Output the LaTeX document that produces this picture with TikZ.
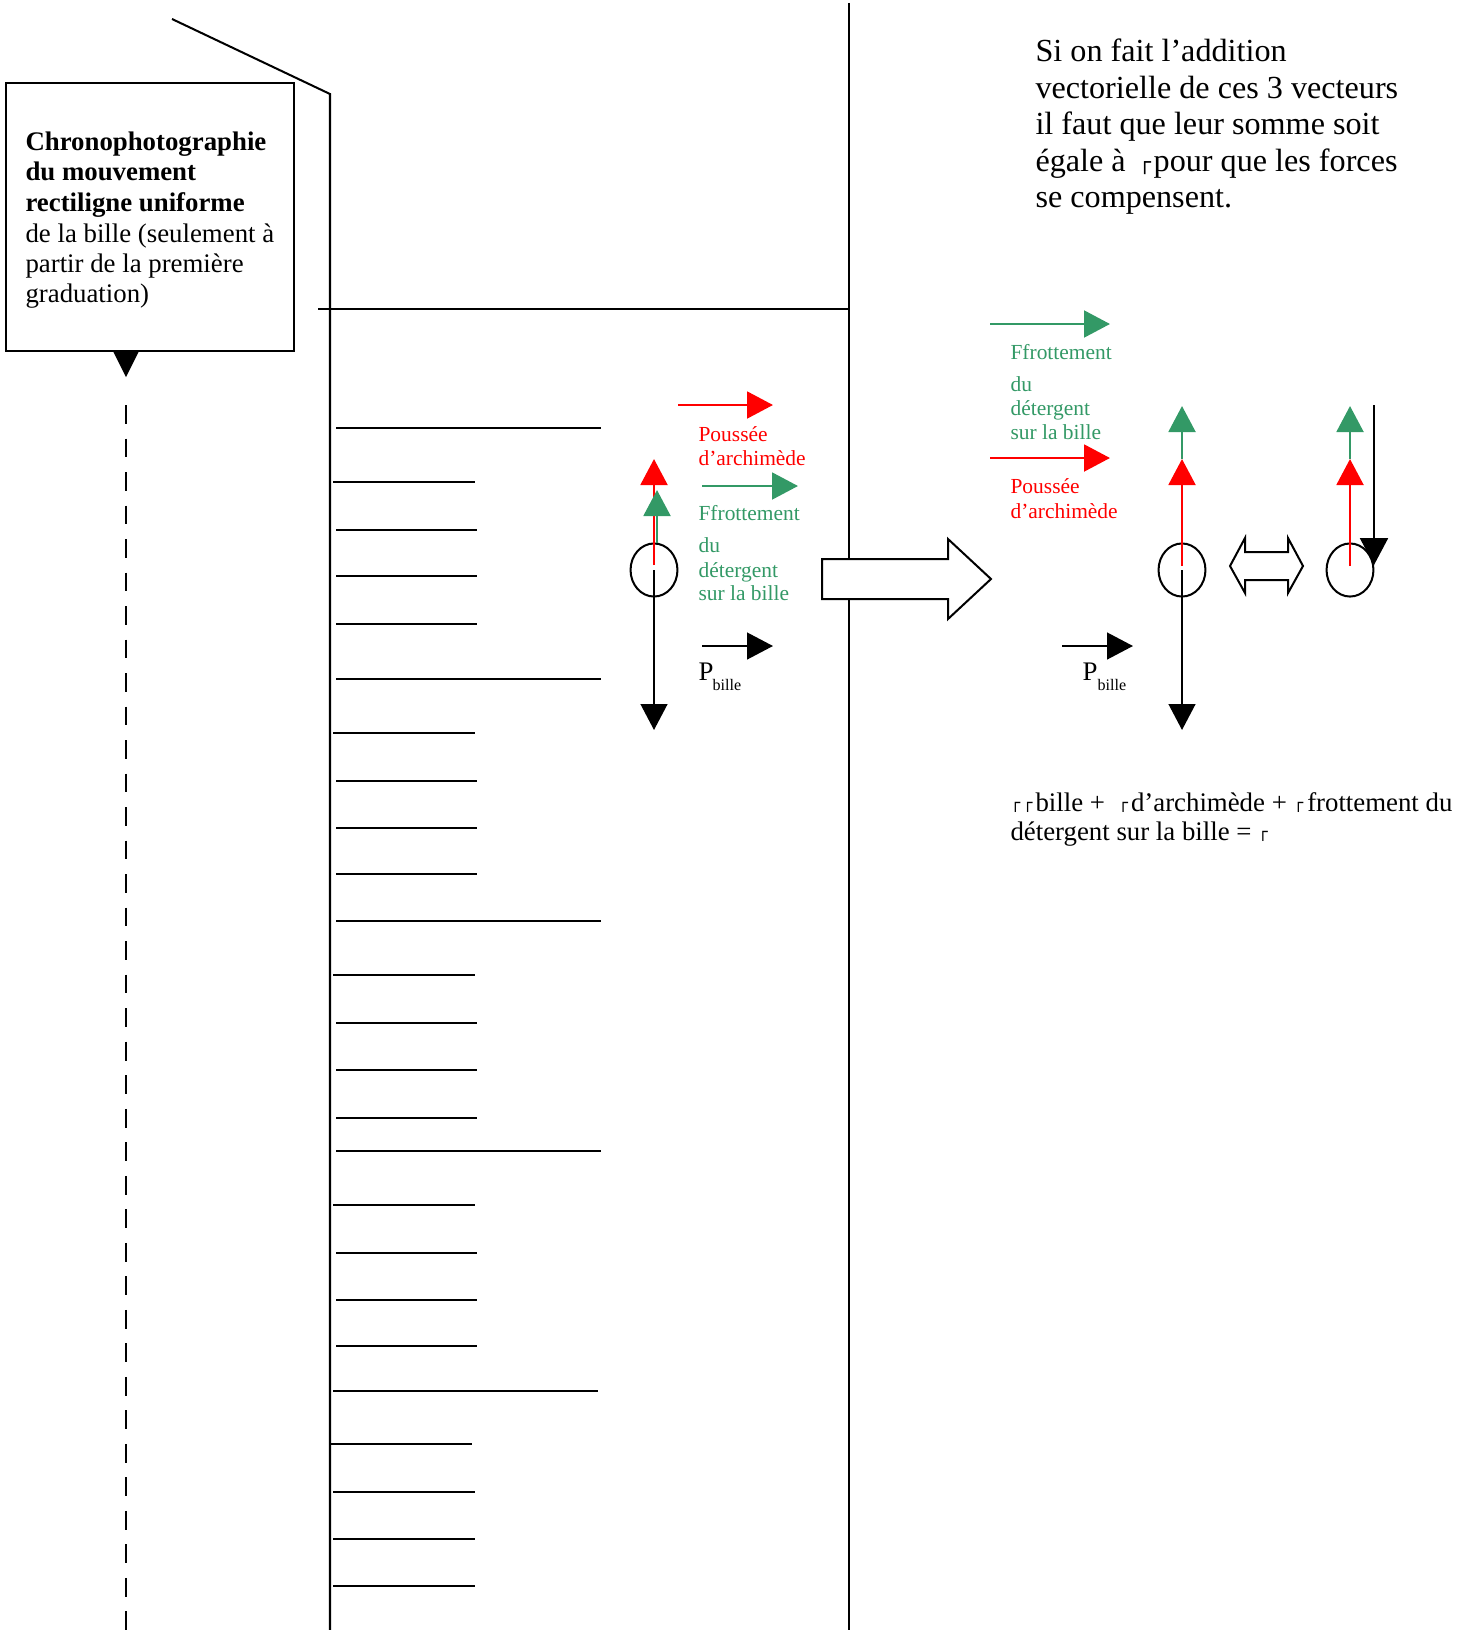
\documentclass[tikz,border=0pt]{standalone}
\usepackage{fontspec}
\setmainfont{Liberation Serif}
\newfontfamily\dvs{DejaVu Sans}
\usetikzlibrary{arrows.meta,shapes.geometric}
\definecolor{sgreen}{RGB}{51,153,102}
\definecolor{pred}{RGB}{255,0,0}
\newcommand\vsymA{\raisebox{0.7pt}{\dvs\fontsize{7.7}{7.7}\selectfont ┌}}
\newcommand\vsymB{\raisebox{0.9pt}{\dvs\fontsize{6}{6}\selectfont ┌}}
\begin{document}
\begin{tikzpicture}[x=0.373pt,y=-0.373pt,
  ln/.style={line width=0.75pt},
  vec/.style={line width=1pt,-{Triangle[length=9.7pt,width=10pt]}},
  bvec/.style={line width=0.75pt,-{Triangle[length=9.7pt,width=10pt]}},
  lbl/.style={anchor=base west,inner sep=0pt,font=\fontsize{8}{9}\selectfont},
  maintxt/.style={anchor=base west,inner sep=0pt,font=\fontsize{12}{14}\selectfont},
  boxt/.style={anchor=base west,inner sep=0pt,font=\fontsize{10}{11}\selectfont},
  eqt/.style={anchor=base west,inner sep=0pt,font=\fontsize{10}{11}\selectfont},
  ball/.style={draw,ellipse,line width=0.75pt,minimum width=17.5pt,minimum height=19.8pt,inner sep=0pt},
  blockarrow/.style={draw,fill=white,line width=0.75pt,line join=miter},
]
\useasboundingbox (0,0) rectangle (1469,1630);

% ---- tube ----
\coordinate (d1) at (172,19);
\coordinate (d2) at (330,94);
\coordinate (d3) at (330,1630);
\draw[ln] (d1) -- (d2) -- (d3);
\coordinate (h1) at (318,309);
\coordinate (h2) at (849,309);
\draw[ln] (h1) -- (h2);
\coordinate (v1) at (849,3);
\coordinate (v2) at (849,1630);
\draw[ln] (v1) -- (v2);

% graduations
\foreach \y/\a/\b in {428/336/601, 482/333/475, 530/336/477, 576/336/477, 624/336/477,
  679/336/601, 733/333/475, 781/336/477, 828/336/477, 874/336/477,
  921/336/601, 975/333/475, 1023/336/477, 1070/336/477, 1118/336/477,
  1151/336/601, 1205/333/475, 1253/336/477, 1300/336/477, 1346/336/477,
  1391/333/598, 1444/329/472, 1492/333/475, 1539/333/475, 1586/333/475}
  \draw[ln] (\a,\y) -- (\b,\y);

% ---- callout box ----
\node[draw,ln,minimum width=107.4pt,minimum height=100pt,inner sep=0pt] (capbox) at (150,217) {};
\fill (113,351) -- (139,351) -- (126,377) -- cycle;
\coordinate (dash1) at (126,405);
\coordinate (dash2) at (126,1630);
\draw[line width=1.1pt,dash pattern=on 7pt off 5.5pt] (dash1) -- (dash2);

\node[boxt,font=\fontsize{10}{11}\selectfont\bfseries] (bt1) at (25,150) {Chronophotographie};
\node[boxt,font=\fontsize{10}{11}\selectfont\bfseries] (bt2) at (25,180) {du mouvement};
\node[boxt,font=\fontsize{10}{11}\selectfont\bfseries] (bt3) at (25,211) {rectiligne uniforme};
\node[boxt] (bt4) at (25,242) {de la bille (seulement à};
\node[boxt] (bt5) at (25,272) {partir de la première};
\node[boxt] (bt6) at (25,302) {graduation)};

% ---- left ball with forces ----
\node[ball] (b1) at (654,570) {};
\coordinate (r1a) at (654,565); \coordinate (r1b) at (654,459);
\coordinate (g1a) at (657,543); \coordinate (g1b) at (657,490);
\coordinate (k1a) at (654,570); \coordinate (k1b) at (654,730);
\draw[vec,pred] (r1a) -- (r1b);
\draw[vec,sgreen] (g1a) -- (g1b);
\draw[bvec] (k1a) -- (k1b);

% legend left
\coordinate (lr1) at (678,405); \coordinate (lr2) at (773,405);
\coordinate (lg1) at (702,486); \coordinate (lg2) at (798,486);
\coordinate (lk1) at (702,646); \coordinate (lk2) at (773,646);
\draw[vec,pred] (lr1) -- (lr2);
\draw[vec,sgreen] (lg1) -- (lg2);
\draw[bvec] (lk1) -- (lk2);
\node[lbl,text=pred] (lp1) at (698,441) {Poussée};
\node[lbl,text=pred] (lp2) at (698,465) {d’archimède};
\node[lbl,text=sgreen] (lf1) at (698,520) {Ffrottement};
\node[lbl,text=sgreen] (lf2) at (698,552) {du};
\node[lbl,text=sgreen] (lf3) at (698,577) {détergent};
\node[lbl,text=sgreen] (lf4) at (698,600) {sur la bille};
\node[anchor=base west,inner sep=0pt,font=\fontsize{10}{11}\selectfont] (lP) at (698,680) {P};
\node[anchor=base west,inner sep=0pt,font=\fontsize{6}{7}\selectfont] (lPs) at (712,690) {bille};

% ---- big arrow ----
\path[blockarrow] (822,559) -- (948,559) -- (948,539) -- (991,579) -- (948,619) -- (948,599) -- (822,599) -- cycle;

% ---- right legend ----
\coordinate (rg1) at (990,324); \coordinate (rg2) at (1110,324);
\coordinate (rr1) at (990,458); \coordinate (rr2) at (1110,458);
\coordinate (rk1) at (1062,646); \coordinate (rk2) at (1133,646);
\draw[vec,sgreen] (rg1) -- (rg2);
\draw[vec,pred] (rr1) -- (rr2);
\draw[bvec] (rk1) -- (rk2);
\node[lbl,text=sgreen] (rf1) at (1010,359) {Ffrottement};
\node[lbl,text=sgreen] (rf2) at (1010,391) {du};
\node[lbl,text=sgreen] (rf3) at (1010,415) {détergent};
\node[lbl,text=sgreen] (rf4) at (1010,439) {sur la bille};
\node[lbl,text=pred] (rp1) at (1010,493) {Poussée};
\node[lbl,text=pred] (rp2) at (1010,518) {d’archimède};
\node[anchor=base west,inner sep=0pt,font=\fontsize{10}{11}\selectfont] (rP) at (1082,680) {P};
\node[anchor=base west,inner sep=0pt,font=\fontsize{6}{7}\selectfont] (rPs) at (1097,690) {bille};

% ---- ball 2 ----
\node[ball] (b2) at (1182,570) {};
\coordinate (r2a) at (1182,566); \coordinate (r2b) at (1182,459);
\coordinate (g2b) at (1182,406);
\coordinate (k2b) at (1182,730);
\draw[vec,pred] (r2a) -- (r2b);
\draw[vec,sgreen] (r2b) -- (g2b);
\draw[bvec] (b2.center) -- (k2b);

% ---- double arrow ----
\path[blockarrow] (1230,566) -- (1245,538) -- (1245,552) -- (1288,552) -- (1288,538) -- (1303,566)
  -- (1288,593) -- (1288,580) -- (1245,580) -- (1245,593) -- cycle;

% ---- ball 3 ----
\node[ball] (b3) at (1350,570) {};
\coordinate (r3a) at (1350,566); \coordinate (r3b) at (1350,459);
\coordinate (g3b) at (1350,406);
\coordinate (k3a) at (1374,405); \coordinate (k3b) at (1374,565);
\draw[vec,pred] (r3a) -- (r3b);
\draw[vec,sgreen] (r3b) -- (g3b);
\draw[line width=0.75pt,-{Triangle[length=10pt,width=10.4pt]}] (k3a) -- (k3b);

% ---- main text ----
\node[maintxt] (m1) at (1035,61.5) {Si on fait l’addition};
\node[maintxt] (m2) at (1035,98) {vectorielle de ces 3 vecteurs};
\node[maintxt] (m3) at (1035,134.5) {il faut que leur somme soit};
\node[maintxt] (m4) at (1035,171) {égale à\hspace{4.8pt}\vsymA\kern1pt pour que les forces};
\node[maintxt] (m5) at (1035,207.5) {se compensent.};

% ---- equation text ----
\node[eqt] (e1) at (1010,811) {\vsymB\kern1pt\vsymB\kern1.1pt bille +~ \vsymB\kern1.1pt d’archimède + \vsymB\kern1.5pt frottement du};
\node[eqt] (e2) at (1010,840) {détergent sur la bille = \vsymB};
\end{tikzpicture}
\end{document}
